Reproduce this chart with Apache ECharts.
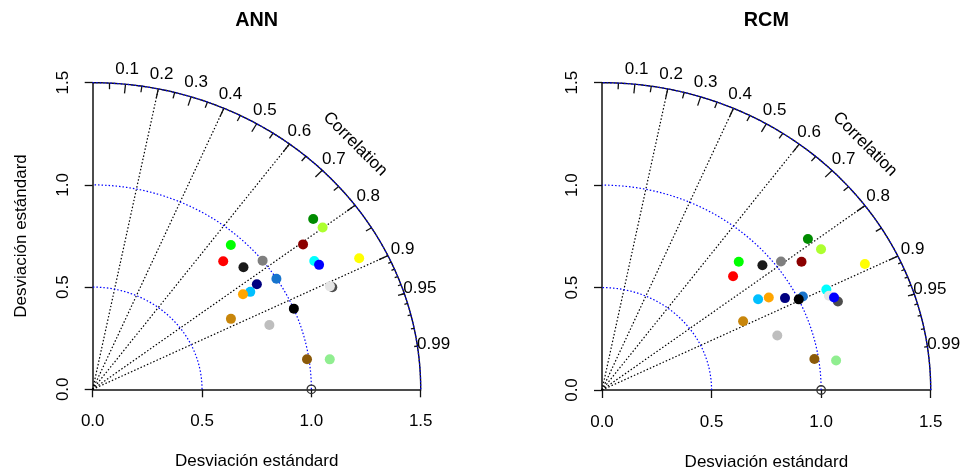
<!DOCTYPE html>
<html>
<head>
<meta charset="utf-8">
<script src="https://cdn.jsdelivr.net/npm/echarts@6/dist/echarts.min.js"></script>
<style>
  html, body { margin: 0; padding: 0; background: #ffffff; }
  #chart { width: 962px; height: 472px; }
</style>
</head>
<body>
<div id="chart"></div>
<script>
// Taylor diagrams: standard deviation (radius) and correlation (angle) of each model
const panelTitles = ['ANN', 'RCM'];
const axisName = 'Desviación estándard';

const modelColors = [
  '#008B00', '#ADFF2F', '#8B0000', '#00FF00', '#FF0000', '#7F7F7F', '#1A1A1A',
  '#00FFFF', '#4D4D4D', '#E5E5E5', '#0000FF', '#FFFF00', '#1874CD', '#000080',
  '#00BFFF', '#FFA500', '#000000', '#C8860B', '#BEBEBE', '#8B5A0A', '#90EE90'
];

// ANN panel
const annSd  = [1.308, 1.316, 1.195, 0.947, 0.865, 1.000, 0.912,
                1.192, 1.204, 1.196, 1.201, 1.377, 0.999, 0.910,
                0.864, 0.830, 1.001, 0.720, 0.867, 0.991, 1.094];
const annCor = [0.771, 0.799, 0.805, 0.667, 0.690, 0.777, 0.756,
                0.850, 0.910, 0.907, 0.862, 0.885, 0.841, 0.825,
                0.834, 0.828, 0.919, 0.878, 0.932, 0.989, 0.991];

// RCM panel
const rcmSd  = [1.194, 1.213, 1.105, 0.884, 0.816, 1.030, 0.952,
                1.135, 1.160, 1.133, 1.151, 1.348, 1.024, 0.948,
                0.839, 0.885, 1.001, 0.726, 0.843, 0.981, 1.078];
const rcmCor = [0.787, 0.824, 0.824, 0.706, 0.733, 0.793, 0.769,
                0.902, 0.928, 0.914, 0.920, 0.890, 0.895, 0.881,
                0.849, 0.860, 0.897, 0.887, 0.949, 0.988, 0.991];

const sdTicks = [0, 0.5, 1.0, 1.5];
const sdArcs = [0.5, 1.0, 1.5];
const corrLines = [0.2, 0.4, 0.6, 0.8, 0.9];
const corrLabels = [0.1, 0.2, 0.3, 0.4, 0.5, 0.6, 0.7, 0.8, 0.9, 0.95, 0.99];
const refSd = 1.0;
const maxSd = 1.5;

const FONT = '"Liberation Sans", Arial, Helvetica, sans-serif';
const FS = 17;

const grids = [
  { left: 92.7, top: 82.7, width: 328, height: 306.6, outerBoundsMode: 'none', containLabel: false },
  { left: 602, top: 82.7, width: 328.7, height: 307.3, outerBoundsMode: 'none', containLabel: false }
];

function polar(sd, r) {
  return [sd * r, sd * Math.sqrt(Math.max(0, 1 - r * r))];
}

function arcPoints(radius) {
  const pts = [];
  for (let i = 0; i <= 180; i++) {
    const a = (Math.PI / 2) * i / 180;
    pts.push([radius * Math.cos(a), radius * Math.sin(a)]);
  }
  return pts;
}

function arcTicks() {
  const segs = [];
  const add = (r, inner) => {
    const a = Math.acos(r);
    segs.push({ coords: [[maxSd * Math.cos(a), maxSd * Math.sin(a)],
                         [inner * maxSd * Math.cos(a), inner * maxSd * Math.sin(a)]] });
  };
  for (let k = 1; k <= 9; k++) add(k / 10, 0.97);
  for (let k = 0; k <= 9; k++) add(0.05 + k / 10, 0.98);
  for (let k = 1; k <= 9; k++) add(0.9 + k / 100, 0.99);
  return segs;
}

const xAxes = [], yAxes = [], series = [];
const panels = [[annSd, annCor], [rcmSd, rcmCor]];

panels.forEach(([sds, cors], p) => {
  xAxes.push({
    gridIndex: p, type: 'value', min: 0, max: maxSd, interval: 0.5,
    axisLine: { show: true, lineStyle: { color: '#111', width: 1.5 } },
    axisTick: { show: true, length: 8, inside: false, lineStyle: { color: '#111', width: 1.3 } },
    axisLabel: { show: true, margin: 24, color: '#000', fontSize: FS, fontFamily: FONT,
                 formatter: v => v.toFixed(1), showMinLabel: true, showMaxLabel: true },
    splitLine: { show: false },
    name: axisName, nameLocation: 'middle', nameGap: 64,
    nameTextStyle: { color: '#000', fontSize: FS, fontFamily: FONT }
  });
  yAxes.push({
    gridIndex: p, type: 'value', min: 0, max: maxSd, interval: 0.5,
    axisLine: { show: true, lineStyle: { color: '#111', width: 1.5 } },
    axisTick: { show: true, length: 8, inside: false, lineStyle: { color: '#111', width: 1.3 } },
    axisLabel: { show: true, margin: 21, rotate: 90, color: '#000', fontSize: FS, fontFamily: FONT,
                 formatter: v => v.toFixed(1), showMinLabel: true, showMaxLabel: true },
    splitLine: { show: false },
    name: p === 0 ? axisName : '', nameLocation: 'middle', nameGap: 63,
    nameTextStyle: { color: '#000', fontSize: FS, fontFamily: FONT }
  });

  const ax = { xAxisIndex: p, yAxisIndex: p };

  // outer solid arc
  series.push(Object.assign({
    type: 'line', data: arcPoints(maxSd), showSymbol: false, symbol: 'none', silent: true,
    lineStyle: { color: '#111', width: 1.4 }, z: 2, clip: false
  }, ax));

  // blue dotted standard-deviation arcs
  sdArcs.forEach(r => {
    series.push(Object.assign({
      type: 'line', data: arcPoints(r), showSymbol: false, symbol: 'none', silent: true,
      lineStyle: { color: '#0000ff', width: 1.2, type: [1.5, 2] }, z: 3, clip: false
    }, ax));
  });

  // correlation rays
  series.push(Object.assign({
    type: 'lines', coordinateSystem: 'cartesian2d', silent: true, z: 2,
    data: corrLines.map(c => ({ coords: [[0, 0], polar(maxSd, c)] })),
    lineStyle: { color: '#000', width: 1.2, type: [1.5, 2], opacity: 1 }
  }, ax));

  // tick marks on the correlation arc
  series.push(Object.assign({
    type: 'lines', coordinateSystem: 'cartesian2d', silent: true, z: 3,
    data: arcTicks(),
    lineStyle: { color: '#111', width: 1.3, opacity: 1 }
  }, ax));

  // correlation labels
  series.push(Object.assign({
    type: 'scatter', symbolSize: 0, silent: true, clip: false, z: 4,
    itemStyle: { opacity: 1 },
    data: corrLabels.map(c => ({ value: polar(maxSd * 1.05, c), name: String(c) })),
    label: { show: true, position: 'inside', formatter: d => d.name,
             color: '#000', fontSize: FS, fontFamily: FONT }
  }, ax));

  // "Correlation" caption
  series.push(Object.assign({
    type: 'scatter', symbolSize: 0, silent: true, clip: false, z: 4,
    itemStyle: { opacity: 1 },
    data: [{ value: [maxSd * 0.8, maxSd * 0.8], name: 'Correlation' }],
    label: { show: true, position: 'inside', formatter: d => d.name, rotate: -45,
             color: '#000', fontSize: FS, fontFamily: FONT }
  }, ax));

  // reference point
  series.push(Object.assign({
    type: 'scatter', symbol: 'circle', symbolSize: 8.5, silent: true, clip: false, z: 5,
    data: [[refSd, 0]],
    itemStyle: { color: 'rgba(255,255,255,0)', borderColor: '#333', borderWidth: 1.3, opacity: 1 }
  }, ax));

  // models
  series.push(Object.assign({
    type: 'scatter', symbol: 'circle', symbolSize: 10, silent: true, clip: false, z: 6,
    data: sds.map((s, i) => ({ value: polar(s, cors[i]),
                                itemStyle: { color: modelColors[i], opacity: 1 } }))
  }, ax));
});

const chart = echarts.init(document.getElementById('chart'), null, { renderer: 'canvas' });
chart.setOption({
  backgroundColor: '#ffffff',
  animation: false,
  grid: grids,
  xAxis: xAxes,
  yAxis: yAxes,
  graphic: panelTitles.map((t, p) => ({
    type: 'text',
    x: grids[p].left + grids[p].width / 2,
    y: 21,
    style: { text: t, textAlign: 'center', textVerticalAlign: 'middle',
             fill: '#000', font: 'bold 19.8px ' + FONT }
  })),
  series: series
});
</script>
</body>
</html>
